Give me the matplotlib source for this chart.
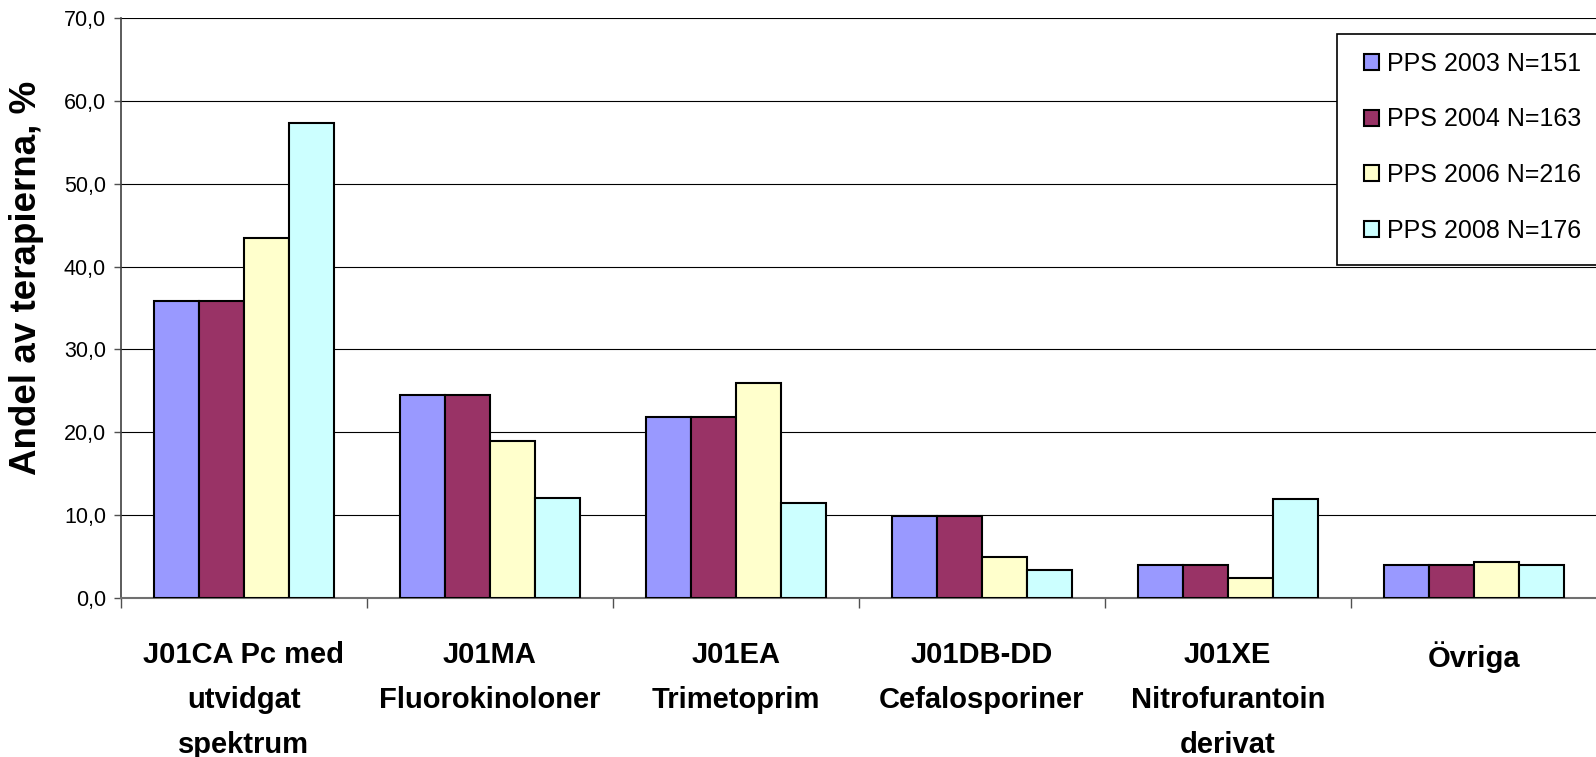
import numpy as np
import matplotlib.pyplot as plt
from matplotlib.patches import Rectangle
from matplotlib.ticker import FuncFormatter, FixedLocator

plt.rcParams['font.family'] = ['Liberation Sans', 'DejaVu Sans']

# Daten
categories = ["J01CA Pc med\nutvidgat\nspektrum", "J01MA\nFluorokinoloner", "J01EA\nTrimetoprim",
              "J01DB-DD\nCefalosporiner", "J01XE\nNitrofurantoin\nderivat", "Övriga"]
series_names = ["PPS 2003 N=151", "PPS 2004 N=163", "PPS 2006 N=216", "PPS 2008 N=176"]
pps2003 = [35.8, 24.5, 21.9, 9.9, 4.0, 4.0]
pps2004 = [35.8, 24.5, 21.9, 9.9, 4.0, 4.0]
pps2006 = [43.5, 19.0, 25.9, 5.0, 2.4, 4.3]
pps2008 = [57.3, 12.1, 11.5, 3.4, 12.0, 4.0]
colors = ["#9999FF", "#993366", "#FFFFCC", "#CCFFFF"]

W, H = 1596, 757
AX_L, AX_R, AX_T, AX_B = 120.7, 1596.7, 18, 598
fig = plt.figure(figsize=(W / 100, H / 100), dpi=100)
ax = fig.add_axes([AX_L / W, 1 - AX_B / H, (AX_R - AX_L) / W, (AX_B - AX_T) / H])

x = np.arange(len(categories))
bw = 0.183
for i, (vals, name, col) in enumerate(zip([pps2003, pps2004, pps2006, pps2008], series_names, colors)):
    ax.bar(x + (i - 1.5) * bw, vals, bw, color=col, edgecolor="black", linewidth=1.5,
           label=name, zorder=3)

ax.set_xlim(-0.5, len(categories) - 0.5)
ax.set_ylim(0, 70)
ax.set_yticks(np.arange(0, 71, 10))
ax.yaxis.set_major_formatter(FuncFormatter(lambda v, p: f"{v:.1f}".replace(".", ",")))
ax.grid(axis="y", color="black", linewidth=0.8, zorder=0)

ax.set_xticks(x)
ax.set_xticklabels(categories, fontsize=21, fontweight="bold", linespacing=1.78, va="top")
ax.tick_params(axis="x", which="major", length=0, pad=31)
ax.xaxis.set_minor_locator(FixedLocator(np.arange(-0.5, len(categories), 1.0)))
ax.tick_params(axis="x", which="minor", length=7, width=1.0, color="#505050")
ax.tick_params(axis="y", length=5, width=1.0, color="#505050", labelsize=15.5, pad=5.5)

for s in ["top", "right"]:
    ax.spines[s].set_visible(False)
ax.spines["left"].set_color("#404040")
ax.spines["left"].set_linewidth(1.2)
ax.spines["bottom"].set_color("#707070")
ax.spines["bottom"].set_linewidth(1.5)

ax.set_ylabel("Andel av terapierna, %", fontsize=26.5, fontweight="bold", va="center")
ax.yaxis.set_label_coords((27 - AX_L) / (AX_R - AX_L), (AX_B - 278) / (AX_B - AX_T))

# Legende (Rahmen läuft über den rechten Rand hinaus)
leg = fig.legend(loc="upper left", bbox_to_anchor=(1364 / W, 1 - 52 / H), fontsize=18,
                 frameon=False, handlelength=0.6, handleheight=0.6, handletextpad=0.32,
                 labelspacing=1.26, borderpad=0, borderaxespad=0)
for h in leg.legend_handles:
    h.set_linewidth(1.5)
fig.patches.append(Rectangle((1337 / W, 1 - 265 / H), (1620 - 1337) / W, (265 - 34) / H,
                             transform=fig.transFigure, facecolor="white", edgecolor="black",
                             linewidth=1.2, zorder=0.5))

fig.savefig("out.png", dpi=100)
